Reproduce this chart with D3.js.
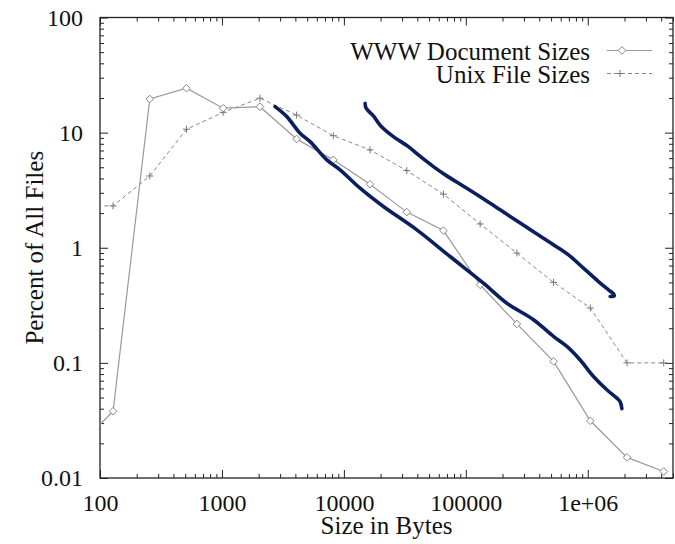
<!DOCTYPE html>
<html>
<head>
<meta charset="utf-8">
<script src="https://cdn.jsdelivr.net/npm/d3@7"></script>
<style>
  body { margin: 0; background: #fff; }
  text { font-family: "Liberation Serif", "Times New Roman", serif; fill: #111; }
</style>
</head>
<body>
<div id="mainDiv"></div>
<script>
'use strict';

// file size bins (bytes)
var sizes = [64, 128, 256, 512, 1024, 2048, 4096, 8192, 16384, 32768, 65536,
             131072, 262144, 524288, 1048576, 2097152, 4194304];

var wwwPct  = [0.018, 0.038, 19.6, 24.3, 16.3, 16.8, 8.8, 5.8, 3.56, 2.04, 1.41,
               0.476, 0.218, 0.103, 0.0314, 0.0151, 0.0114];
var unixPct = [2.3, 2.31, 4.2, 10.7, 15.0, 19.9, 14.2, 9.4, 7.08, 4.68, 2.92,
               1.61, 0.90, 0.50, 0.30, 0.10, 0.10];

// hand drawn blue strokes
var upperBytes = [14930, 15210, 17460, 20090, 25470, 33820, 40840, 54200, 69820, 101900,
                  158300, 230800, 358700, 523400, 694800, 922000, 1224000, 1479000,
                  1625000, 1647000, 1527000];
var upperPct   = [18.0, 16.3, 13.96, 11.43, 9.23, 7.56, 6.40, 5.07, 4.21, 3.29,
                  2.44, 1.87, 1.38, 1.06, 0.867, 0.665, 0.509, 0.431,
                  0.398, 0.382, 0.377];
var lowerBytes = [2726, 3402, 4373, 5282, 7240, 9307, 13580, 21090, 39630, 74300,
                  139400, 216900, 358700, 523400, 674400, 866400, 1114000, 1434000,
                  1733000, 1845000, 1905000];
var lowerPct   = [16.8, 13.77, 9.88, 8.35, 5.80, 4.75, 3.29, 2.28, 1.43, 0.839,
                  0.493, 0.330, 0.237, 0.170, 0.139, 0.106, 0.0762, 0.0584,
                  0.0494, 0.0459, 0.040];

var xTicks = [100, 1000, 10000, 100000, 1000000];
var xTickLabels = ['100', '1000', '10000', '100000', '1e+06'];
var yTicks = [0.01, 0.1, 1, 10, 100];
var yTickLabels = ['0.01', '0.1', '1', '10', '100'];

var legendNames = ['WWW Document Sizes', 'Unix File Sizes'];

var myApp = {};

myApp.margens = { top: 17.5, left: 100, right: 2, bottom: 66 };
myApp.dim = { largura: 573, altura: 460.5 };

myApp.minorTicks = function(lo, hi) {
    var out = [];
    for (var e = Math.floor(Math.log10(lo)); e <= Math.ceil(Math.log10(hi)); e++) {
        for (var m = 1; m < 10; m++) {
            var v = m * Math.pow(10, e);
            if (v >= lo * 0.999 && v <= hi * 1.001) out.push(v);
        }
    }
    return out;
};

myApp.diamond = function(g, x, y) {
    var s = 3.8;
    g.append('path')
        .attr('d', 'M' + x + ',' + (y - s) + 'L' + (x + s) + ',' + y + 'L' + x + ',' + (y + s) + 'L' + (x - s) + ',' + y + 'Z')
        .attr('fill', '#fff').attr('stroke', '#888').attr('stroke-width', 1);
};

myApp.plus = function(g, x, y) {
    var s = 3.5;
    g.append('path')
        .attr('d', 'M' + (x - s) + ',' + y + 'H' + (x + s) + 'M' + x + ',' + (y - s) + 'V' + (y + s))
        .attr('stroke', '#777').attr('stroke-width', 1);
};

myApp.run = function() {
    var m = myApp.margens, w = myApp.dim.largura, h = myApp.dim.altura;

    var svg = d3.select('#mainDiv').append('svg')
        .attr('width', 675).attr('height', 544);

    var x = d3.scaleLog().domain([100, 5e6]).range([0, w]);
    var y = d3.scaleLog().domain([0.01, 100]).range([h, 0]);

    var cht = svg.append('g').attr('transform', 'translate(' + m.left + ',' + m.top + ')');

    svg.append('defs').append('clipPath').attr('id', 'clip')
        .append('rect').attr('width', w).attr('height', h);

    var xMinor = myApp.minorTicks(100, 5e6).filter(function(v) { return xTicks.indexOf(v) < 0; });
    var yMinor = myApp.minorTicks(0.01, 100).filter(function(v) { return yTicks.indexOf(v) < 0; });

    function styleAxis(g) {
        g.select('.domain').remove();
        g.selectAll('line').attr('stroke', '#222').attr('stroke-width', 1);
        g.selectAll('text').style('font-size', '24px').attr('fill', '#111');
    }

    // bottom
    cht.append('g').attr('transform', 'translate(0,' + h + ')')
        .call(d3.axisBottom(x).tickValues(xTicks).tickSize(-8).tickPadding(16)
            .tickFormat(function(d, i) { return xTickLabels[i]; }))
        .call(styleAxis);
    cht.append('g').attr('transform', 'translate(0,' + h + ')')
        .call(d3.axisBottom(x).tickValues(xMinor).tickSize(-4).tickFormat(''))
        .call(styleAxis);
    // top
    cht.append('g')
        .call(d3.axisTop(x).tickValues(xTicks).tickSize(-8).tickFormat(''))
        .call(styleAxis);
    cht.append('g')
        .call(d3.axisTop(x).tickValues(xMinor).tickSize(-4).tickFormat(''))
        .call(styleAxis);
    // left
    cht.append('g')
        .call(d3.axisLeft(y).tickValues(yTicks).tickSize(-8).tickPadding(17)
            .tickFormat(function(d, i) { return yTickLabels[i]; }))
        .call(styleAxis);
    cht.append('g')
        .call(d3.axisLeft(y).tickValues(yMinor).tickSize(-4).tickFormat(''))
        .call(styleAxis);
    // right
    cht.append('g').attr('transform', 'translate(' + w + ',0)')
        .call(d3.axisRight(y).tickValues(yTicks).tickSize(-8).tickFormat(''))
        .call(styleAxis);
    cht.append('g').attr('transform', 'translate(' + w + ',0)')
        .call(d3.axisRight(y).tickValues(yMinor).tickSize(-4).tickFormat(''))
        .call(styleAxis);

    cht.append('rect').attr('width', w).attr('height', h)
        .attr('fill', 'none').attr('stroke', '#222').attr('stroke-width', 1.3);

    var plot = cht.append('g').attr('clip-path', 'url(#clip)');

    var line = d3.line()
        .x(function(d) { return x(d[0]); })
        .y(function(d) { return y(d[1]); });

    var www = d3.zip(sizes, wwwPct);
    var unix = d3.zip(sizes, unixPct);

    plot.append('path').datum(unix).attr('d', line)
        .attr('fill', 'none').attr('stroke', '#888').attr('stroke-width', 1)
        .attr('stroke-dasharray', '4,3');
    plot.append('path').datum(www).attr('d', line)
        .attr('fill', 'none').attr('stroke', '#999').attr('stroke-width', 1.2);

    unix.forEach(function(d) { myApp.plus(plot, x(d[0]), y(d[1])); });
    www.forEach(function(d) { myApp.diamond(plot, x(d[0]), y(d[1])); });

    var pen = d3.line()
        .x(function(d) { return x(d[0]); })
        .y(function(d) { return y(d[1]); })
        .curve(d3.curveCatmullRom);

    [d3.zip(upperBytes, upperPct), d3.zip(lowerBytes, lowerPct)].forEach(function(s) {
        plot.append('path').datum(s).attr('d', pen)
            .attr('fill', 'none').attr('stroke', '#0b1f5e').attr('stroke-width', 3.6)
            .attr('stroke-linecap', 'round').attr('stroke-linejoin', 'round');
    });

    // legend
    var leg = svg.append('g');
    legendNames.forEach(function(name, i) {
        var by = 60 + i * 23;
        leg.append('text').attr('x', 590).attr('y', by)
            .attr('text-anchor', 'end').style('font-size', '25px').text(name);
        var ly = by - 9.5;
        var l = leg.append('line').attr('x1', 607).attr('x2', 652).attr('y1', ly).attr('y2', ly)
            .attr('stroke', i === 0 ? '#999' : '#888').attr('stroke-width', i === 0 ? 1.2 : 1);
        if (i === 1) { l.attr('stroke-dasharray', '4,3'); myApp.plus(leg, 620, ly); }
        else { myApp.diamond(leg, 622, ly); }
    });

    // axis titles
    svg.append('text').attr('x', m.left + w / 2).attr('y', 534)
        .attr('text-anchor', 'middle').style('font-size', '25px').text('Size in Bytes');
    svg.append('text').attr('transform', 'translate(43,' + (m.top + h / 2) + ') rotate(-90)')
        .attr('text-anchor', 'middle').style('font-size', '25px').text('Percent of All Files');
};

window.onload = function() {
    myApp.run();
};
</script>
</body>
</html>
